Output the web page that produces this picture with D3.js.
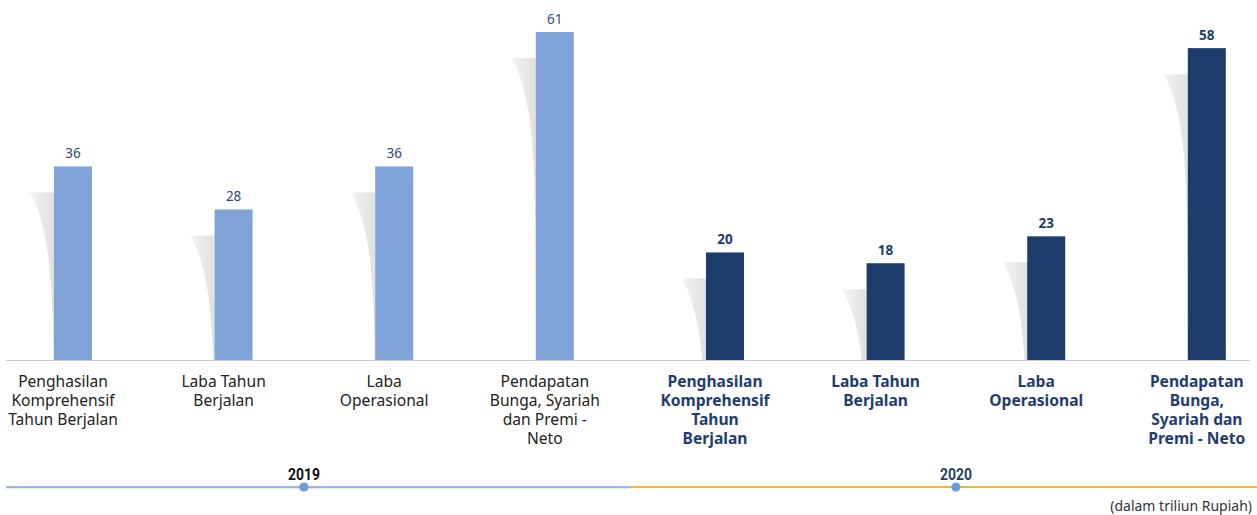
<!DOCTYPE html>
<html>
<head>
<meta charset="utf-8">
<script src="https://cdn.jsdelivr.net/npm/d3@7"></script>
<style>
  html, body { margin: 0; padding: 0; background: #fff; }
  svg { display: block; }
</style>
</head>
<body>
<svg id="chart" width="1257" height="515"></svg>
<script>
// ---- data ----
const years = ["2019", "2020"];
const categories = [
  "Penghasilan Komprehensif Tahun Berjalan",
  "Laba Tahun Berjalan",
  "Laba Operasional",
  "Pendapatan Bunga, Syariah dan Premi - Neto"
];
const values2019 = [36, 28, 36, 61];
const values2020 = [20, 18, 23, 58];
const labelLines2019 = [
  ["Penghasilan", "Komprehensif", "Tahun Berjalan"],
  ["Laba Tahun", "Berjalan"],
  ["Laba", "Operasional"],
  ["Pendapatan", "Bunga, Syariah", "dan Premi -", "Neto"]
];
const labelLines2020 = [
  ["Penghasilan", "Komprehensif", "Tahun", "Berjalan"],
  ["Laba Tahun", "Berjalan"],
  ["Laba", "Operasional"],
  ["Pendapatan", "Bunga,", "Syariah dan", "Premi - Neto"]
];
const unitNote = "(dalam triliun Rupiah)";

// ---- setup ----
const svg = d3.select("#chart");
const W = 1257, H = 515;
const FONT = "'Noto Sans', sans-serif";

const series = {
  "2019": { values: values2019, lines: labelLines2019, bar: "#7fa3d6", valColor: "#2e4a7d", labColor: "#222222", weight: "normal" },
  "2020": { values: values2020, lines: labelLines2020, bar: "#1c3c6c", valColor: "#1c3c6c", labColor: "#1f3e6f", weight: "bold" }
};

const xYear = d3.scaleBand().domain(years).range([-17.3, 1277.1]).paddingInner(0.0147).paddingOuter(0);
const xCat = d3.scaleBand().domain(categories).range([0, xYear.bandwidth()]);
const y = d3.scaleLinear().domain([0, 61]).range([360, 32]);

const barW = 38, barShift = 10, shadowW = 24, shadowDrop = 26;

// gradient for shadows
const defs = svg.append("defs");
const grad = defs.append("linearGradient").attr("id", "shadowGrad")
  .attr("x1", "0").attr("y1", "0").attr("x2", "1").attr("y2", "0");
grad.append("stop").attr("offset", "0%").attr("stop-color", "#f3f3f3");
grad.append("stop").attr("offset", "100%").attr("stop-color", "#dfe0e0");

const gBars = svg.append("g");

years.forEach(yr => {
  const s = series[yr];
  const g0 = xYear(yr);
  categories.forEach((c, i) => {
    const v = s.values[i];
    const cx = g0 + xCat(c) + xCat.bandwidth() / 2;
    const bx = cx + barShift - barW / 2;
    const top = y(v);
    const base = y(0);
    // shadow swoosh
    const sTop = top + shadowDrop;
    const h = base - sTop;
    const pts = d3.range(0, 41).map(k => {
      const dy = h * k / 40;
      return [bx - shadowW * Math.exp(-dy / 45), sTop + dy];
    });
    const area = d3.area().x0(d => d[0]).x1(() => bx).y(d => d[1]).curve(d3.curveBasis);
    gBars.append("path").attr("d", area(pts)).attr("fill", "url(#shadowGrad)");
    // bar
    gBars.append("rect")
      .attr("x", bx).attr("y", top)
      .attr("width", barW).attr("height", base - top)
      .attr("fill", s.bar);
    // value
    svg.append("text")
      .attr("x", bx + barW / 2).attr("y", top - 8)
      .attr("text-anchor", "middle")
      .attr("font-family", FONT).attr("font-size", 13.5)
      .attr("font-weight", s.weight)
      .attr("fill", s.valColor)
      .text(v);
    // category label
    const t = svg.append("text")
      .attr("text-anchor", "middle")
      .attr("font-family", FONT).attr("font-size", 15.6)
      .attr("font-weight", s.weight)
      .attr("fill", s.labColor);
    s.lines[i].forEach((ln, j) => {
      t.append("tspan").attr("x", cx).attr("y", 387 + j * 19).text(ln);
    });
  });
});

// baseline
svg.append("line")
  .attr("x1", 6).attr("x2", 1250)
  .attr("y1", y(0) + 0.5).attr("y2", y(0) + 0.5)
  .attr("stroke", "#c9c9c9").attr("stroke-width", 1);

// timeline
const tlY = 487;
const split = (xYear("2019") + xYear.bandwidth() + xYear("2020")) / 2;
svg.append("line").attr("x1", 6).attr("x2", split).attr("y1", tlY + 1).attr("y2", tlY + 1)
  .attr("stroke", "#c7d7ee").attr("stroke-width", 1);
svg.append("line").attr("x1", 6).attr("x2", split).attr("y1", tlY).attr("y2", tlY)
  .attr("stroke", "#7fa3d6").attr("stroke-width", 1.6);
svg.append("line").attr("x1", split).attr("x2", W).attr("y1", tlY).attr("y2", tlY)
  .attr("stroke", "#f6b532").attr("stroke-width", 2);

years.forEach(yr => {
  const cx = xYear(yr) + xYear.bandwidth() / 2;
  svg.append("circle").attr("cx", cx).attr("cy", tlY).attr("r", 4.6).attr("fill", "#6d9bd6");
  svg.append("text")
    .attr("transform", `translate(${cx},480) scale(0.82,1)`)
    .attr("text-anchor", "middle")
    .attr("font-family", "Roboto, sans-serif").attr("font-size", 17)
    .attr("font-weight", "bold")
    .attr("fill", yr === "2019" ? "#111111" : "#1f3e6f")
    .text(yr);
});

// unit note
svg.append("text")
  .attr("x", 1252).attr("y", 511)
  .attr("text-anchor", "end")
  .attr("font-family", FONT).attr("font-size", 14)
  .attr("fill", "#333333")
  .text(unitNote);
</script>
</body>
</html>
